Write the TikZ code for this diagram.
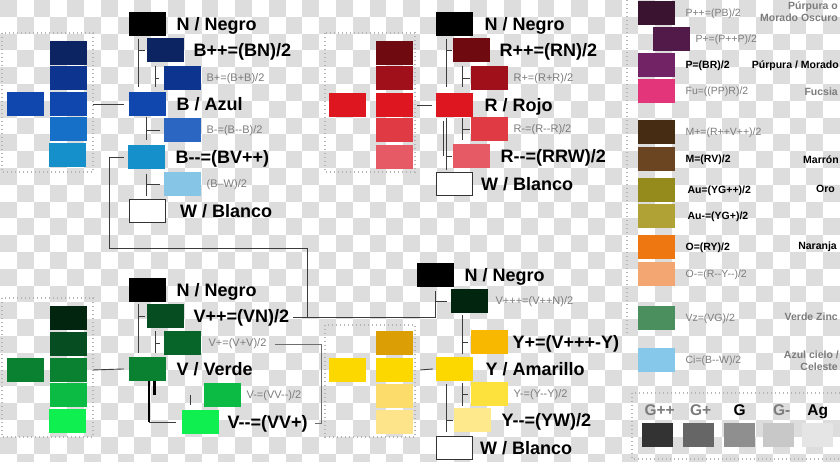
\documentclass[tikz,border=0pt]{standalone}
\usepackage{fontspec}
\setmainfont{Liberation Sans}
\usetikzlibrary{calc}

% 颜色
\definecolor{chk}{RGB}{221,221,221}
\definecolor{txtgray}{HTML}{7C7C7C}
\definecolor{treeline}{HTML}{3C3C3C}
\definecolor{bracketline}{HTML}{6E6E6E}
\definecolor{dotline}{HTML}{B4B4B4}
\definecolor{boxline}{HTML}{333333}
\definecolor{cBpp}{HTML}{0C2461}
\definecolor{cBp}{HTML}{0D3590}
\definecolor{cB}{HTML}{0F47AF}
\definecolor{cBm}{HTML}{2A66C2}
\definecolor{cBmc}{HTML}{1670C8}
\definecolor{cBmm}{HTML}{1590CB}
\definecolor{cCi}{HTML}{86C5E6}
\definecolor{cRpp}{HTML}{6E0A10}
\definecolor{cRp}{HTML}{A0101A}
\definecolor{cR}{HTML}{DD1620}
\definecolor{cRm}{HTML}{E03A45}
\definecolor{cRmm}{HTML}{E65A66}
\definecolor{cVppp}{HTML}{02250F}
\definecolor{cVpp}{HTML}{064D21}
\definecolor{cVp}{HTML}{076529}
\definecolor{cV}{HTML}{0A8131}
\definecolor{cVm}{HTML}{0CBB44}
\definecolor{cVmm}{HTML}{10EF50}
\definecolor{cYpc}{HTML}{DC9E05}
\definecolor{cYp}{HTML}{F9B800}
\definecolor{cY}{HTML}{FCD700}
\definecolor{cYm}{HTML}{FDE23D}
\definecolor{cYmc}{HTML}{FCDC6B}
\definecolor{cYmm}{HTML}{FEEA8C}
\definecolor{cYmmc}{HTML}{FDE48A}
\definecolor{cPpp}{HTML}{3A1331}
\definecolor{cPp}{HTML}{521A48}
\definecolor{cP}{HTML}{722366}
\definecolor{cFu}{HTML}{E2357A}
\definecolor{cMp}{HTML}{462C13}
\definecolor{cM}{HTML}{6B4521}
\definecolor{cAu}{HTML}{958A1C}
\definecolor{cAum}{HTML}{B1A236}
\definecolor{cO}{HTML}{EE7711}
\definecolor{cOm}{HTML}{F3A671}
\definecolor{cVz}{HTML}{4B8F5E}
\definecolor{cCe}{HTML}{86C8E9}
\definecolor{cGpp}{HTML}{333333}
\definecolor{cGp}{HTML}{666666}
\definecolor{cG}{HTML}{8F8F8F}
\definecolor{cGm}{HTML}{C8C8C8}
\definecolor{cAg}{HTML}{E5E5E5}

\begin{document}
\begin{tikzpicture}[x=1pt, y=-1pt,
    sw/.style={fill=#1, inner sep=0pt, minimum width=37pt, minimum height=23.5pt, anchor=north west},
    gsw/.style={fill=#1, inner sep=0pt, minimum width=31pt, minimum height=24pt, anchor=north west},
    wbox/.style={draw=boxline, line width=0.9pt, fill=white, inner sep=0pt, minimum width=36pt, minimum height=22.5pt, anchor=north west},
    big/.style={anchor=base west, yshift=-6.5pt, inner sep=0pt, font=\fontsize{18}{20}\selectfont\bfseries},
    sub/.style={anchor=base west, yshift=-4pt, inner sep=0pt, text=txtgray, font=\fontsize{11}{13}\selectfont},
    pan/.style={anchor=base west, yshift=-3.8pt, inner sep=0pt, font=\fontsize{10.5}{12}\selectfont\bfseries},
    pang/.style={pan, text=txtgray, font=\fontsize{10.5}{12}\selectfont},
    cname/.style={anchor=base east, inner sep=0pt, font=\fontsize{10.5}{12}\selectfont\bfseries},
    glab/.style={anchor=base, yshift=7.5pt, inner sep=0pt, font=\fontsize{15.5}{17}\selectfont\bfseries},
    tree/.style={draw=treeline, line width=0.9pt},
    dotbox/.style={draw=dotline, line width=1.2pt, dash pattern=on 1.2pt off 2.8pt},
  ]
  \useasboundingbox (0,0) rectangle (840,461);

  % 棋盘格背景
  \begin{scope}
    \clip (0,0) rectangle (840,461);
    \foreach \i in {0,...,49}
      \foreach \j in {0,...,27} {
        \pgfmathtruncatemacro\k{mod(\i+\j,2)}
        \ifnum\k=0 \fill[chk] (\i*16.8,\j*16.8) rectangle ++(16.8,16.8); \fi
      }
  \end{scope}

  % 蓝色组：色阶列
  \draw[dotbox] (2,33) rectangle (93,172);
  \node[sw=cBpp] (bc1) at (50,41) {};
  \node[sw=cBp] (bc2) at (50,66) {};
  \node[sw=cB] (bc3) at (50,92) {};
  \node[sw=cBmc] (bc4) at (50,117) {};
  \node[sw=cBmm] (bc5) at (49,143) {};
  \node[sw=cB] (bc0) at (7,92) {};

  % 蓝色组：树
  \node[sw=black] (bN) at (129,12) {};
  \node[sw=cBpp] (bBpp) at (147,38) {};
  \node[sw=cBp] (bBp) at (164,66) {};
  \node[sw=cB] (bB) at (129,92) {};
  \node[sw=cBm] (bBm) at (164,118) {};
  \node[sw=cBmm] (bBmm) at (128,145) {};
  \node[sw=cCi] (bCi) at (164,172) {};
  \node[wbox] (bW) at (129,199) {};
  \node[big, xshift=10pt] (lbN) at (bN.east) {N / Negro};
  \node[big, xshift=9pt] (lbBpp) at (bBpp.east) {B++=(BN)/2};
  \node[sub, xshift=5pt] (lbBp) at (bBp.east) {B+=(B+B)/2};
  \node[big, xshift=10pt] (lbB) at (bB.east) {B / Azul};
  \node[sub, xshift=5pt] (lbBm) at (bBm.east) {B-=(B-{}-B)/2};
  \node[big, xshift=10pt] (lbBmm) at (bBmm.east) {B-{}-=(BV++)};
  \node[sub, xshift=5pt] (lbCi) at (bCi.east) {(B–W)/2};
  \node[big, xshift=14pt] (lbW) at (bW.east) {W / Blanco};

  % 红色组：色阶列
  \draw[dotbox] (325,33) rectangle (415,172);
  \node[sw=cRpp] (rc1) at (376,41) {};
  \node[sw=cRp] (rc2) at (376,66) {};
  \node[sw=cR] (rc3) at (376,93) {};
  \node[sw=cRm] (rc4) at (376,118) {};
  \node[sw=cRmm] (rc5) at (376,145) {};
  \node[sw=cR] (rc0) at (329,93) {};

  % 红色组：树
  \node[sw=black] (rN) at (436,12) {};
  \node[sw=cRpp] (rRpp) at (453,38) {};
  \node[sw=cRp] (rRp) at (471,66) {};
  \node[sw=cR] (rR) at (436,93) {};
  \node[sw=cRm] (rRm) at (471,117) {};
  \node[sw=cRmm] (rRmm) at (453,144) {};
  \node[wbox] (rW) at (436,172) {};
  \node[big, xshift=11pt] (lrN) at (rN.east) {N / Negro};
  \node[big, xshift=9pt] (lrRpp) at (rRpp.east) {R++=(RN)/2};
  \node[sub, xshift=5pt] (lrRp) at (rRp.east) {R+=(R+R)/2};
  \node[big, xshift=11pt] (lrR) at (rR.east) {R / Rojo};
  \node[sub, xshift=5pt] (lrRm) at (rRm.east) {R-=(R-{}-R)/2};
  \node[big, xshift=10pt] (lrRmm) at (rRmm.east) {R-{}-=(RRW)/2};
  \node[big, xshift=8pt] (lrW) at (rW.east) {W / Blanco};

  % 绿色组：色阶列
  \draw[dotbox] (2,298) rectangle (93,437);
  \node[sw=cVppp] (gc1) at (50,306) {};
  \node[sw=cVpp] (gc2) at (50,332) {};
  \node[sw=cV] (gc3) at (50,358) {};
  \node[sw=cVm] (gc4) at (50,383) {};
  \node[sw=cVmm] (gc5) at (49,409) {};
  \node[sw=cV] (gc0) at (7,358) {};

  % 绿色组：树
  \node[sw=black] (gN) at (129,278) {};
  \node[sw=cVpp] (gVpp) at (147,304) {};
  \node[sw=cVp] (gVp) at (164,331) {};
  \node[sw=cV] (gV) at (129,357) {};
  \node[sw=cVm] (gVm) at (204,383) {};
  \node[sw=cVmm] (gVmm) at (182,410) {};
  \node[big, xshift=10pt] (lgN) at (gN.east) {N / Negro};
  \node[big, xshift=9pt] (lgVpp) at (gVpp.east) {V++=(VN)/2};
  \node[sub, xshift=7pt] (lgVp) at (gVp.east) {V+=(V+V)/2};
  \node[big, xshift=10pt] (lgV) at (gV.east) {V / Verde};
  \node[sub, xshift=5pt] (lgVm) at (gVm.east) {V-=(VV-{}-)/2};
  \node[big, xshift=8pt] (lgVmm) at (gVmm.east) {V-{}-=(VV+)};

  % 黄色组：色阶列
  \draw[dotbox] (325,325) rectangle (415,437);
  \node[sw=cYpc] (yc1) at (376,331) {};
  \node[sw=cY] (yc2) at (376,358) {};
  \node[sw=cYmc] (yc3) at (376,384) {};
  \node[sw=cYmmc] (yc4) at (376,410) {};
  \node[sw=cY] (yc0) at (329,358) {};

  % 黄色组：树
  \node[sw=black] (yN) at (417,263) {};
  \node[sw=cVppp] (yVppp) at (451,289) {};
  \node[sw=cYp] (yYp) at (471,330) {};
  \node[sw=cY] (yY) at (436,357) {};
  \node[sw=cYm] (yYm) at (471,382) {};
  \node[sw=cYmm] (yYmm) at (454,408) {};
  \node[wbox] (yW) at (436,436) {};
  \node[big, xshift=10pt] (lyN) at (yN.east) {N / Negro};
  \node[sub, xshift=7pt] (lyVppp) at (yVppp.east) {V+++=(V++N)/2};
  \node[big, xshift=4pt] (lyYp) at (yYp.east) {Y+=(V+++-Y)};
  \node[big, xshift=12pt] (lyY) at (yY.east) {Y / Amarillo};
  \node[sub, xshift=5pt] (lyYm) at (yYm.east) {Y-=(Y-{}-Y)/2};
  \node[big, xshift=10pt] (lyYmm) at (yYmm.east) {Y-{}-=(YW)/2};
  \node[big, xshift=7pt] (lyW) at (yW.east) {W / Blanco};

  % 蓝色树线
  \draw[tree] ([xshift=6]bc3.east) -- ([xshift=-5]bB.west);
  \coordinate (b1) at ([xshift=9]bN.south west);
  \draw[tree, shorten <=3pt, shorten >=5pt] (b1) -- (b1 |- bB.north);
  \draw[tree, shorten <=2pt] (bBpp.west) -- (bBpp.west -| b1);
  \coordinate (b2) at ([xshift=-9]bBp.north west);
  \draw[tree, shorten >=5pt] (b2) -- (b2 |- bB.north);
  \draw[tree, shorten <=5pt] (bBp.west) -- (bBp.west -| b2);
  \coordinate (b3) at ([xshift=17]bB.south west);
  \draw[tree, shorten <=1pt, shorten >=5pt] (b3) -- (b3 |- bBmm.north);
  \draw[tree, shorten <=4pt] (bBm.west) -- (bBm.west -| b3);
  \coordinate (b4) at ([xshift=18]bBmm.south west);
  \draw[tree, shorten <=5pt] (b4) -- (b4 |- bCi.south);
  \draw[tree, shorten <=4pt] (bCi.west) -- (bCi.west -| b4);

  % B-- 到 V++，再到 V+++
  \coordinate (jog) at (307,248);
  \draw[tree] ([xshift=-4]bBmm.west) -- ++(-15,0) |- (jog) |- ([xshift=4]lgVpp.east);
  \draw[tree, shorten >=4pt] ([xshift=4]lgVpp.east) -| (yN.south);
  \draw[tree, shorten <=4pt] (yVppp.west) -- (yVppp.west -| yN.south);

  % 红色树线
  \draw[tree] ([xshift=4]rc3.east) -- ([xshift=-4]rR.west);
  \coordinate (r1) at ([xshift=10]rN.south west);
  \draw[tree, shorten <=3pt, shorten >=6pt] (r1) -- (r1 |- rR.north);
  \draw[tree, shorten <=1pt] (rRpp.west) -- (rRpp.west -| r1);
  \coordinate (r2) at ([xshift=-9]rRp.north west);
  \draw[tree, shorten >=6pt] (r2) -- (r2 |- rR.north);
  \draw[tree, shorten <=1pt] (rRp.west) -- (rRp.west -| r2);
  \coordinate (r3) at ([xshift=26]rR.south west);
  \draw[tree, shorten <=1pt, shorten >=1pt] (r3) -- (r3 |- rRm.south);
  \draw[tree, shorten <=1pt] (rRm.west) -- (rRm.west -| r3);
  \coordinate (r4) at ([xshift=10]rR.south west);
  \draw[tree, shorten <=1pt, shorten >=2pt] (r4) -- (r4 |- rW.north);
  \draw[tree, shorten <=1pt] (rRmm.west) -- (rRmm.west -| r4);
  \coordinate (r5) at ([xshift=7]rR.south west);
  \draw[tree, shorten <=4pt] (r5) -- (r5 |- rRmm.west);

  % 绿色树线
  \draw[tree] ([xshift=6]gc3.east) -- ([xshift=-5]gV.west);
  \coordinate (g1) at ([xshift=9]gN.south west);
  \draw[tree, shorten <=2pt, shorten >=4pt] (g1) -- (g1 |- gV.north);
  \draw[tree, shorten <=2pt] (gVpp.west) -- (gVpp.west -| g1);
  \coordinate (g2) at ([xshift=-9]gVp.north west);
  \draw[tree, shorten >=4pt] (g2) -- (g2 |- gV.north);
  \draw[tree, shorten <=4pt] (gVp.west) -- (gVp.west -| g2);
  \coordinate (g3) at ([xshift=20]gV.south west);
  \draw[line width=2pt] (g3) -- (g3 |- gVmm.west);
  \draw[line width=3pt] ([xshift=5]g3) -- ++(0,14);
  \draw[tree] (g3 |- gVmm.west) -- ([xshift=-6]gVmm.west);
  \draw[tree] ([xshift=-14]gVm.west) -- ++(0,10);
  % V+ 到 V--
  \coordinate (vb) at (321,343);
  \draw[draw=bracketline, line width=0.9pt] ([xshift=8]lgVp.east) -- (lgVp.east -| vb) |- ([xshift=7]lgVmm.east);

  % 黄色树线
  \draw[tree] ([xshift=7]yc2.east) -- ([xshift=-3]yY.west);
  \coordinate (y1) at ([xshift=-9]yYp.north west);
  \draw[tree, shorten <=2pt, shorten >=3pt] (yVppp.south -| y1) -- (y1 |- yY.north);
  \draw[tree, shorten <=3pt] (yYp.west) -- (yYp.west -| y1);
  \coordinate (y2) at ([xshift=10]yY.south west);
  \draw[tree, shorten <=3pt, shorten >=4pt] (y2) -- (y2 |- yW.north);
  \draw[tree, shorten <=1pt] (yYmm.west) -- (yYmm.west -| y2);
  \coordinate (y3) at ([xshift=26]yY.south west);
  \draw[tree, shorten <=2pt] (y3) -- (y3 |- yYm.south);
  \draw[tree, shorten <=3pt] (yYm.west) -- (yYm.west -| y3);

  % 右侧：混合色
  \draw[dotbox] (627,0) -- (627,335);
  \node[sw=cPpp] (pPpp) at (638,1) {};
  \node[sw=cPp] (pPp) at (653,27) {};
  \node[sw=cP] (pP) at (638,53) {};
  \node[sw=cFu] (pFu) at (638,79) {};
  \node[sw=cMp] (pMp) at (638,120) {};
  \node[sw=cM] (pM) at (638,147) {};
  \node[sw=cAu] (pAu) at (638,178) {};
  \node[sw=cAum] (pAum) at (638,204) {};
  \node[sw=cO] (pO) at (638,235) {};
  \node[sw=cOm] (pOm) at (638,262) {};
  \node[sw=cVz] (pVz) at (638,306) {};
  \node[sw=cCe] (pCi) at (638,348) {};
  \node[pang, xshift=10pt] (lpPpp) at (pPpp.east) {P++=(PB)/2};
  \node[pang, xshift=5pt] (lpPp) at (pPp.east) {P+=(P++P)/2};
  \node[pan, xshift=10pt] (lpP) at (pP.east) {P=(BR)/2};
  \node[pang, xshift=10pt] (lpFu) at (pFu.east) {Fu=((PP)R)/2};
  \node[pang, xshift=10pt] (lpMp) at (pMp.east) {M+=(R++V++)/2};
  \node[pan, xshift=10pt] (lpM) at (pM.east) {M=(RV)/2};
  \node[pan, xshift=12pt] (lpAu) at (pAu.east) {Au=(YG++)/2};
  \node[pan, xshift=12pt] (lpAum) at (pAum.east) {Au-=(YG+)/2};
  \node[pan, xshift=10pt] (lpO) at (pO.east) {O=(RY)/2};
  \node[pang, xshift=10pt] (lpOm) at (pOm.east) {O-=(R-{}-Y-{}-)/2};
  \node[pang, xshift=10pt] (lpVz) at (pVz.east) {Vz=(VG)/2};
  \node[pang, xshift=10pt] (lpCi) at (pCi.east) {Ci=(B-{}-W)/2};

  % 右侧：名称
  \node[cname, text=txtgray] (n1) at (838,9.8) {Púrpura o};
  \node[cname, text=txtgray] (n2) at (838,21.8) {Morado Oscuro};
  \node[cname] (n3) at (839,68.8) {Púrpura / Morado};
  \node[cname, text=txtgray] (n4) at (838,95.8) {Fucsia};
  \node[cname] (n5) at (839,163.8) {Marrón};
  \node[cname] (n6) at (835,192.8) {Oro};
  \node[cname] (n7) at (837,249.8) {Naranja};
  \node[cname, text=txtgray] (n8) at (838,320.8) {Verde Zinc};
  \node[cname, text=txtgray] (n9) at (839,358.8) {Azul cielo /};
  \node[cname, text=txtgray] (n10) at (838,370.8) {Celeste};

  % 灰度
  \draw[dotbox] (632,393) rectangle (842,459);
  \node[gsw=cGpp] (kGpp) at (642,423) {};
  \node[gsw=cGp] (kGp) at (683,423) {};
  \node[gsw=cG] (kG) at (724,423) {};
  \node[gsw=cGm] (kGm) at (763,423) {};
  \node[gsw=cAg] (kAg) at (802,423) {};
  \node[glab, text=txtgray, xshift=2pt] (tGpp) at (kGpp.north) {G++};
  \node[glab, text=txtgray, xshift=2pt] (tGp) at (kGp.north) {G+};
  \node[glab] (tG) at (kG.north) {G};
  \node[glab, text=txtgray, xshift=3pt] (tGm) at (kGm.north) {G-};
  \node[glab] (tAg) at (kAg.north) {Ag};
\end{tikzpicture}
\end{document}
